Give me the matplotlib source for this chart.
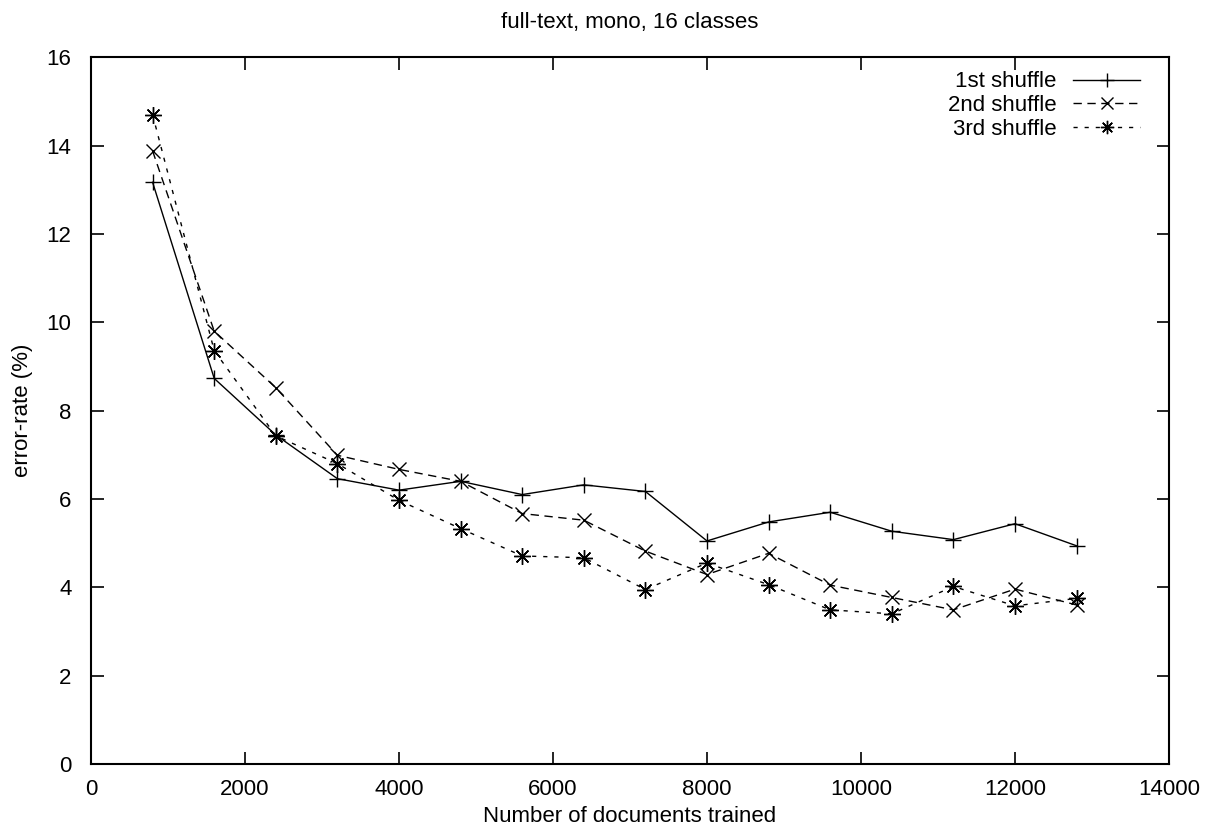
import matplotlib
matplotlib.use('Agg')
import matplotlib.pyplot as plt

# ---Data---
docs = [800, 1600, 2400, 3200, 4000, 4800, 5600, 6400, 7200, 8000,
        8800, 9600, 10400, 11200, 12000, 12800]
shuffle1 = [13.17, 8.73, 7.45, 6.46, 6.20, 6.40, 6.10, 6.32, 6.17, 5.05,
            5.48, 5.70, 5.27, 5.08, 5.44, 4.94]
shuffle2 = [13.88, 9.80, 8.52, 6.99, 6.67, 6.40, 5.67, 5.52, 4.82, 4.29,
            4.77, 4.05, 3.77, 3.49, 3.96, 3.60]
shuffle3 = [14.70, 9.36, 7.43, 6.80, 5.97, 5.33, 4.71, 4.67, 3.95, 4.55,
            4.06, 3.49, 3.40, 4.02, 3.58, 3.75]
labels = ['1st shuffle', '2nd shuffle', '3rd shuffle']

plt.rcParams['font.family'] = ['Liberation Sans', 'DejaVu Sans']
FS = 16

fig = plt.figure(figsize=(12.06, 8.31), dpi=100)
ax = fig.add_axes([91 / 1206, 1 - 764 / 831, (1169 - 91) / 1206, (764 - 57.3) / 831])

ax.plot(docs, shuffle1, color='black', lw=1.0, ls='-', marker='+', ms=12, mew=1.0,
        label=labels[0])
ax.plot(docs, shuffle2, color='black', lw=1.0, ls=(0, (6, 4)), marker='x', ms=10, mew=1.0,
        label=labels[1])
ax.plot(docs, shuffle3, color='black', lw=1.0, ls=(0, (3, 5)), marker=(8, 2, 0), ms=12, mew=1.0,
        label=labels[2])

ax.set_xlim(0, 14000)
ax.set_ylim(0, 16)
ax.set_xticks(range(0, 14001, 2000))
ax.set_yticks(range(0, 17, 2))
ax.tick_params(direction='in', length=9, width=1.2, top=True, right=True,
               labelsize=FS)
ax.tick_params(axis='x', pad=11)
ax.tick_params(axis='y', pad=14)
for s in ax.spines.values():
    s.set_linewidth(1.5)

ax.set_title('full-text, mono, 16 classes', fontsize=FS, pad=21)
ax.set_xlabel('Number of documents trained', fontsize=FS, labelpad=4)
ax.set_ylabel('error-rate (%)', fontsize=FS, labelpad=10)

ax.legend(loc='upper right', bbox_to_anchor=(1.0, 1.021), frameon=False,
          markerfirst=False, fontsize=FS, handlelength=3.0, handletextpad=0.75,
          labelspacing=0.12, borderaxespad=0.9, markerscale=0.8)

fig.savefig('out.png', dpi=100)
